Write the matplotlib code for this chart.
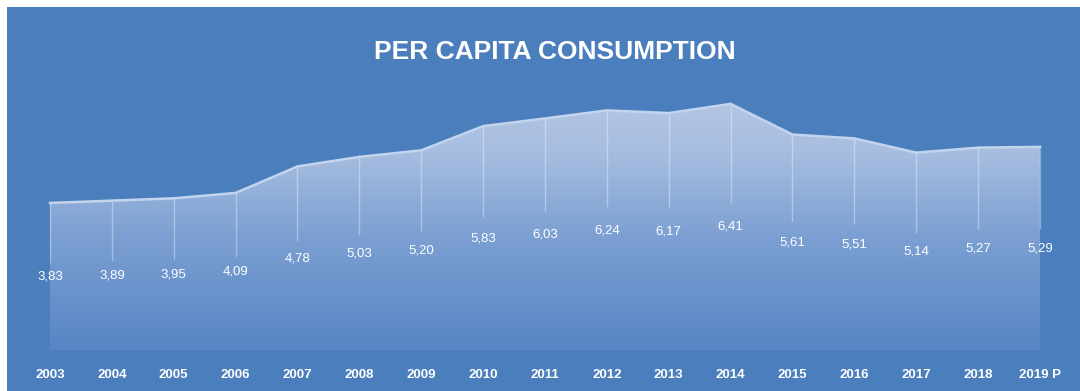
import numpy as np
import matplotlib.pyplot as plt
from matplotlib.patches import Rectangle
from matplotlib.colors import LinearSegmentedColormap

years = ['2003', '2004', '2005', '2006', '2007', '2008', '2009', '2010', '2011',
         '2012', '2013', '2014', '2015', '2016', '2017', '2018', '2019 P']
consumption = [3.83, 3.89, 3.95, 4.09, 4.78, 5.03, 5.20, 5.83, 6.03,
               6.24, 6.17, 6.41, 5.61, 5.51, 5.14, 5.27, 5.29]

bg = '#4a7ebd'
plt.rcParams['font.family'] = ['Liberation Sans', 'DejaVu Sans']

fig = plt.figure(figsize=(10.8, 3.91), dpi=100, facecolor='white')
# blue panel with a thin white margin top/left
fig.patches.append(Rectangle((7 / 1080, 0), 1, 1 - 7 / 391, transform=fig.transFigure,
                             facecolor=bg, edgecolor='none', zorder=-5))

ax = fig.add_axes([0, 0, 1, 1])
ax.patch.set_alpha(0)
x = np.arange(len(years))
y = np.array(consumption)
ax.set_xlim(-50 / 61.875, 1030 / 61.875)
ax.set_ylim(-41 / 38.4, 350 / 38.4)
ax.axis('off')

# gradient-filled area
poly = ax.fill_between(x, 0, y, facecolor='none', edgecolor='none')
cmap = LinearSegmentedColormap.from_list(
    'fade', [(0, '#5786c5'), (0.45, '#7b9fd2'), (0.8, '#a7bde0'), (1, '#b2c5e3')])
grad = np.linspace(0, 1, 256).reshape(-1, 1)
img = ax.imshow(grad, cmap=cmap, aspect='auto', origin='lower',
                extent=[x[0], x[-1], 0, y.max()], zorder=1)
img.set_clip_path(poly.get_paths()[0], transform=ax.transData)

# bright top edge
ax.plot(x, y, color='#c3d5ee', lw=1.8, zorder=3)

# thin vertical lines under each point
for xi, yi in zip(x, y):
    ax.plot([xi, xi], [yi * 0.6, yi], color='white', lw=1.0, alpha=0.35, zorder=2)

# value labels in the middle of the area
for xi, yi in zip(x, y):
    ax.text(xi, yi / 2, f'{yi:.2f}'.replace('.', ','), color='white',
            ha='center', va='center', fontsize=9.5, zorder=4)

# year labels along the bottom
for xi, yr in zip(x, years):
    ax.text(xi, -25 / 38.4, yr, color='white', ha='center', va='center',
            fontsize=9.5, fontweight='bold', zorder=4)

fig.text(555 / 1080, 1 - 52 / 391, 'PER CAPITA CONSUMPTION', color='white',
         ha='center', va='center', fontsize=19, fontweight='bold')

fig.savefig('out.png', dpi=100, facecolor='white')
